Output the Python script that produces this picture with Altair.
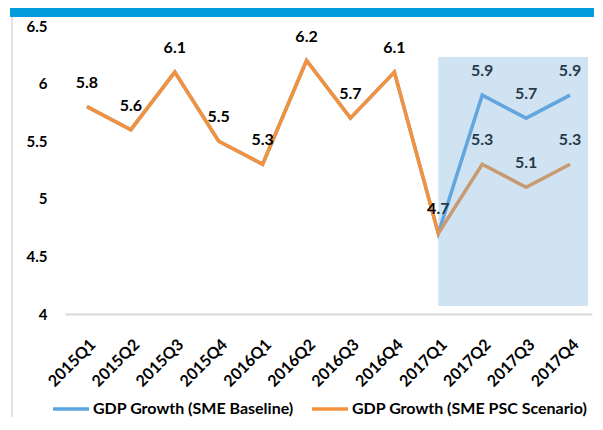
import altair as alt
import pandas as pd

categories = ["2015Q1", "2015Q2", "2015Q3", "2015Q4", "2016Q1", "2016Q2",
              "2016Q3", "2016Q4", "2017Q1", "2017Q2", "2017Q3", "2017Q4"]
baseline = [5.8, 5.6, 6.1, 5.5, 5.3, 6.2, 5.7, 6.1, 4.7, 5.9, 5.7, 5.9]
psc = [5.8, 5.6, 6.1, 5.5, 5.3, 6.2, 5.7, 6.1, 4.7, 5.3, 5.1, 5.3]
series_names = ["GDP Growth (SME Baseline)", "GDP Growth (SME PSC Scenario)"]
series_colors = ["#5DA5E0", "#F4923C"]
shade_range = {"x": "2017Q1", "x2": "2017Q4", "y": 4.07, "y2": 6.23}

FONT = "Lato"

rows = []
for i, c in enumerate(categories):
    rows.append({"q": c, "v": baseline[i], "s": series_names[0], "o": 0})
    rows.append({"q": c, "v": psc[i], "s": series_names[1], "o": 1})
df = pd.DataFrame(rows)

lab_rows = []
for i, c in enumerate(categories):
    if baseline[i] == psc[i]:
        lab_rows.append({"q": c, "v": psc[i], "t": f"{psc[i]:.1f}"})
    else:
        lab_rows.append({"q": c, "v": baseline[i], "t": f"{baseline[i]:.1f}"})
        lab_rows.append({"q": c, "v": psc[i], "t": f"{psc[i]:.1f}"})
labels_df = pd.DataFrame(lab_rows)

xscale = alt.Scale(type="point", domain=categories, padding=0.5)
yscale = alt.Scale(domain=[4, 6.5], nice=False, zero=False)

x_enc = alt.X("q:N", scale=xscale, sort=categories,
              axis=alt.Axis(title=None, labelAngle=-45, labelFontSize=16,
                            labelFont=FONT, labelFontWeight="bold",
                            labelColor="#000000", labelPadding=22,
                            ticks=False, domainColor="#D9D9D9",
                            domainWidth=2, grid=False))
y_enc = alt.Y("v:Q", scale=yscale,
              axis=alt.Axis(title=None, values=[4, 4.5, 5, 5.5, 6, 6.5],
                            format="~g",
                            labelFontSize=15, labelFont=FONT,
                            labelFontWeight="bold", labelColor="#000000",
                            labelPadding=18, ticks=False, domain=False,
                            grid=False))

lines = alt.Chart(df).mark_line(strokeWidth=3.5).encode(
    x=x_enc,
    y=y_enc,
    color=alt.Color("s:N", scale=alt.Scale(domain=series_names, range=series_colors),
                    legend=alt.Legend(title=None, orient="none", legendX=-14,
                                      legendY=363, direction="horizontal",
                                      padding=0,
                                      symbolType="stroke", symbolStrokeWidth=3.5,
                                      symbolSize=1300, labelFont=FONT,
                                      labelFontSize=16, labelFontWeight="bold",
                                      labelColor="#000000", labelOffset=2,
                                      columnPadding=10, labelLimit=400)),
    order=alt.Order("o:Q"),
)

text = alt.Chart(labels_df).mark_text(
    font=FONT, fontSize=16, fontWeight="bold", color="#000000", dy=-24
).encode(
    x=alt.X("q:N", scale=xscale, sort=categories),
    y=alt.Y("v:Q", scale=yscale),
    text="t:N",
)

shade = alt.Chart(pd.DataFrame([shade_range])).mark_rect(
    color="#70AADA", opacity=0.33, x2Offset=18
).encode(
    x=alt.X("x:N", scale=xscale, sort=categories),
    x2="x2:N",
    y=alt.Y("y:Q", scale=yscale),
    y2="y2:Q",
)

one = pd.DataFrame({"a": [0]})
header = alt.Chart(one).mark_rect(color="#009CDC").encode(
    x=alt.value(-55), x2=alt.value(529), y=alt.value(-18), y2=alt.value(-9)
)
leftline = alt.Chart(one).mark_rule(color="#E2E2E2", strokeWidth=2).encode(
    x=alt.value(-53), y=alt.value(-9), y2=alt.value(391)
)

chart = alt.layer(header, leftline, lines, text, shade).properties(
    width=527, height=288,
    autosize=alt.AutoSizeParams(type="none"),
    padding={"left": 57, "top": 18, "right": 2, "bottom": 103},
).configure_view(stroke=None)

chart.save("out.html", embed_options={"renderer": "svg", "actions": False})
